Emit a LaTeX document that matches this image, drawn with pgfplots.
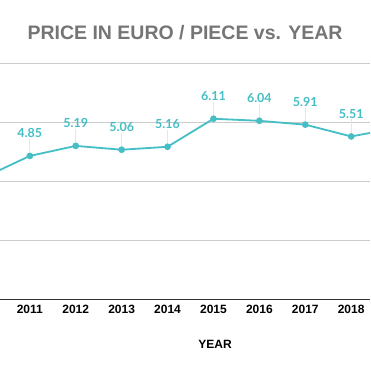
\documentclass[border=0pt]{standalone}
\usepackage{pgfplots}
\pgfplotsset{compat=1.18}
\usepackage{fontspec}
\setmainfont{Liberation Sans}
\newfontfamily\labfont{Lato}
\definecolor{teal1}{HTML}{45BEC5}
\definecolor{titlegray}{HTML}{757575}
\definecolor{gridgray}{HTML}{CCCCCC}
\definecolor{leader}{HTML}{E6E6E6}
\begin{document}
\begin{tikzpicture}[x=1pt,y=1pt]
\path[use as bounding box] (0,0) rectangle (370,371);
\fill[white] (0,0) rectangle (370,371);
\node[font=\fontsize{19.5}{22}\selectfont\bfseries, text=titlegray] at (185,338.5) {PRICE IN EURO / PIECE vs. YEAR};
\node[font=\fontsize{12}{14}\selectfont\bfseries, text=black] at (215,27) {YEAR};
\begin{axis}[
  at={(0pt,72pt)}, anchor=south west,
  scale only axis, width=370pt, height=236pt,
  xmin=2010.35, xmax=2018.41,
  ymin=0, ymax=8,
  axis lines*=left,
  x axis line style={draw=black!80, line width=0.8pt, -},
  y axis line style={draw=none},
  xtick={2011,...,2018},
  xticklabel style={font=\fontsize{12}{14}\selectfont\bfseries, yshift=-3pt},
  /pgf/number format/1000 sep={},
  /pgf/number format/assume math mode=true,
  major tick length=0pt,
  ytick={2,4,6,8},
  yticklabels={},
  ymajorgrids, grid style={gridgray, line width=0.7pt},
  clip=true,
]
\addplot[draw=none, mark=none, forget plot,
  error bars/.cd, y dir=plus, y fixed=0.58,
  error mark=none, error bar style={leader, line width=0.8pt}]
  coordinates {(2011,4.85) (2012,5.19) (2013,5.06) (2014,5.16) (2015,6.11) (2016,6.04) (2017,5.91) (2018,5.51)};
\addplot[teal1, line width=1.8pt, mark=*, mark size=2.4pt, mark options={fill=teal1, draw=teal1}]
  coordinates {(2010,4.12) (2011,4.85) (2012,5.19) (2013,5.06) (2014,5.16) (2015,6.11) (2016,6.04) (2017,5.91) (2018,5.51) (2019,5.80)};
\addplot[draw=none, mark=none,
  nodes near coords, point meta=explicit symbolic,
  every node near coord/.append style={font=\labfont\fontsize{12.5}{14}\selectfont\bfseries, text=teal1, anchor=south, yshift=14.5pt}]
  coordinates {(2011,4.85) [4.85] (2012,5.19) [5.19] (2013,5.06) [5.06] (2014,5.16) [5.16] (2015,6.11) [6.11] (2016,6.04) [6.04] (2017,5.91) [5.91] (2018,5.51) [5.51]};
\end{axis}
\end{tikzpicture}
\end{document}
